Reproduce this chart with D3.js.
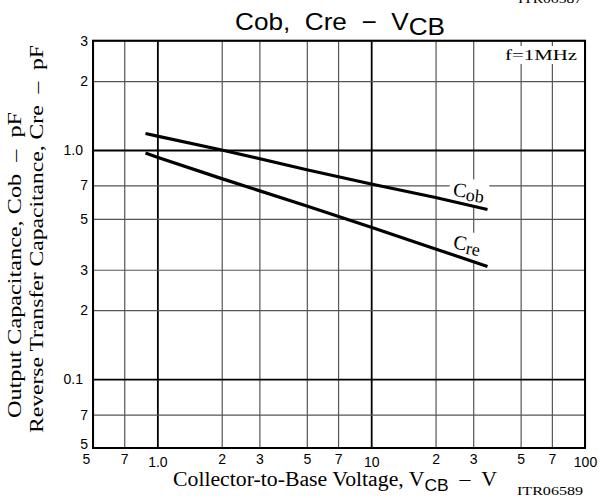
<!DOCTYPE html>
<html>
<head>
<meta charset="utf-8">
<script src="https://cdn.jsdelivr.net/npm/d3@7"></script>
<style>
  body { margin: 0; background: #fff; }
  svg { display: block; }
</style>
</head>
<body>
<div id="chart"></div>
<script>
// values (pF vs V)
const vcb = [0.88, 1, 2, 5, 10, 20, 35];
const cob = [1.18, 1.15, 1.0, 0.82, 0.71, 0.62, 0.55];
const cre = [0.97, 0.93, 0.75, 0.57, 0.46, 0.37, 0.31];

const xTicks = [0.5, 0.7, 1, 2, 3, 5, 7, 10, 20, 30, 50, 70, 100];
const xTickLabels = ["5", "7", "1.0", "2", "3", "5", "7", "10", "2", "3", "5", "7", "100"];
const yTicks = [3, 2, 1, 0.7, 0.5, 0.3, 0.2, 0.1, 0.07, 0.05];
const yTickLabels = ["3", "2", "1.0", "7", "5", "3", "2", "0.1", "7", "5"];

const W = 600, H = 498;
const margin = { top: 40.7, right: 15, bottom: 50, left: 93 };
const width = W - margin.left - margin.right;
const height = H - margin.top - margin.bottom;
const serif = "'Liberation Serif', 'Times New Roman', serif";
const sans = "'Liberation Sans', Arial, sans-serif";

const svg = d3.select("#chart").append("svg")
  .attr("width", W)
  .attr("height", H);

const g = svg.append("g")
  .attr("transform", `translate(${margin.left},${margin.top})`);

const x = d3.scaleLog().domain([0.5, 100]).range([0, width]);
const y = d3.scaleLog().domain([0.05, 3]).range([height, 0]);

const isMajorX = d => d === 1 || d === 10;
const isMajorY = d => d === 1 || d === 0.1;

// vertical grid + x labels
const xAxis = g.append("g")
  .attr("transform", `translate(0,${height})`)
  .call(d3.axisBottom(x)
    .tickValues(xTicks)
    .tickSizeInner(-height)
    .tickSizeOuter(0)
    .tickPadding(6)
    .tickFormat((d, i) => xTickLabels[i]));
xAxis.select(".domain").remove();
xAxis.selectAll(".tick line")
  .attr("stroke", d => isMajorX(d) ? "#000" : "#555")
  .attr("stroke-width", d => isMajorX(d) ? 1.8 : 1.2);
xAxis.selectAll(".tick text")
  .attr("fill", "#000")
  .attr("x", (d, i) => i === 0 ? -7 : 0)
  .style("font-family", sans)
  .style("font-size", "14px")
  .attr("dy", (d, i) => xTickLabels[i].length > 1 ? "0.92em" : "0.72em");

// horizontal grid + y labels
const yAxis = g.append("g")
  .call(d3.axisLeft(y)
    .tickValues(yTicks)
    .tickSizeInner(-width)
    .tickSizeOuter(0)
    .tickPadding(5)
    .tickFormat((d, i) => yTickLabels[i]));
yAxis.select(".domain").remove();
yAxis.selectAll(".tick line")
  .attr("stroke", d => isMajorY(d) ? "#000" : "#555")
  .attr("stroke-width", d => isMajorY(d) ? 1.8 : 1.2);
yAxis.selectAll(".tick text")
  .attr("fill", "#000")
  .attr("x", (d, i) => yTickLabels[i].includes(".") ? -10 : -5)
  .attr("dy", (d, i) => i === yTicks.length - 1 ? "0.05em" : "0.32em")
  .style("font-family", sans)
  .style("font-size", "14px");

// white box behind a text group
function boxBehind(sel, padX, padY) {
  const b = sel.node().getBBox();
  sel.insert("rect", ":first-child")
    .attr("x", b.x - padX)
    .attr("y", b.y - padY)
    .attr("width", b.width + 2 * padX)
    .attr("height", b.height + 2 * padY)
    .attr("fill", "#fff");
}

// f=1MHz note
const note = g.append("g");
note.append("text")
  .attr("x", 412)
  .attr("y", 19.3)
  .attr("textLength", 72)
  .attr("lengthAdjust", "spacingAndGlyphs")
  .style("font-family", serif)
  .style("font-size", "15px")
  .text("f=1MHz");
boxBehind(note, 6, 1);

// curve labels
const labels = [
  { main: "C", sub: "ob", vx: 24, vy: 0.63, rot: 7 },
  { main: "C", sub: "re", vx: 24, vy: 0.372, rot: 10 }
];
labels.forEach(l => {
  const lg = g.append("g")
    .attr("transform", `translate(${x(l.vx)},${y(l.vy)}) rotate(${l.rot})`);
  const t = lg.append("text")
    .style("font-family", serif)
    .style("font-size", "20px");
  t.append("tspan").text(l.main);
  t.append("tspan").attr("dy", 3).style("font-size", "18px").text(l.sub);
  boxBehind(lg, 4, 1);
});

// curves
const line = d3.line()
  .x(d => x(d[0]))
  .y(d => y(d[1]));
[cob, cre].forEach(series => {
  g.append("path")
    .datum(d3.zip(vcb, series))
    .attr("fill", "none")
    .attr("stroke", "#000")
    .attr("stroke-width", 3.2)
    .attr("d", line);
});

// frame
g.append("rect")
  .attr("width", width)
  .attr("height", height)
  .attr("fill", "none")
  .attr("stroke", "#000")
  .attr("stroke-width", 2);

// title
const title = svg.append("text")
  .attr("x", 235)
  .attr("y", 30)
  .attr("textLength", 210)
  .attr("lengthAdjust", "spacingAndGlyphs")
  .style("font-family", sans)
  .style("font-size", "24px");
title.append("tspan").text("Cob,\u00a0\u00a0Cre\u00a0\u00a0\u2212\u00a0\u00a0V");
title.append("tspan").attr("dy", 5).text("CB");

// x axis title
const xt = svg.append("text")
  .attr("x", 173)
  .attr("y", 486)
  .attr("textLength", 324)
  .attr("lengthAdjust", "spacingAndGlyphs")
  .style("font-family", serif)
  .style("font-size", "20px");
xt.append("tspan").text("Collector-to-Base Voltage, V");
xt.append("tspan").attr("dy", 5).style("font-family", sans).style("font-size", "16px").text("CB");
xt.append("tspan").attr("dy", -5).text("\u00a0\u00a0\u2013\u00a0\u00a0V");

svg.append("text")
  .attr("x", 517)
  .attr("y", 495)
  .attr("textLength", 66)
  .attr("lengthAdjust", "spacingAndGlyphs")
  .style("font-family", serif)
  .style("font-size", "12px")
  .text("ITR06589");

// clipped code from the panel above
svg.append("text")
  .attr("x", 518)
  .attr("y", 3)
  .attr("textLength", 64)
  .attr("lengthAdjust", "spacingAndGlyphs")
  .style("font-family", serif)
  .style("font-size", "12px")
  .text("ITR06587");

// y axis titles
svg.append("text")
  .attr("transform", "translate(21,418) rotate(-90)")
  .attr("textLength", 306)
  .attr("lengthAdjust", "spacingAndGlyphs")
  .style("font-family", serif)
  .style("font-size", "18px")
  .text("Output Capacitance, Cob\u00a0\u00a0\u2013\u00a0\u00a0pF");

svg.append("text")
  .attr("transform", "translate(43,433) rotate(-90)")
  .attr("textLength", 388)
  .attr("lengthAdjust", "spacingAndGlyphs")
  .style("font-family", serif)
  .style("font-size", "18px")
  .text("Reverse Transfer Capacitance, Cre\u00a0\u00a0\u2013\u00a0\u00a0pF");
</script>
</body>
</html>
